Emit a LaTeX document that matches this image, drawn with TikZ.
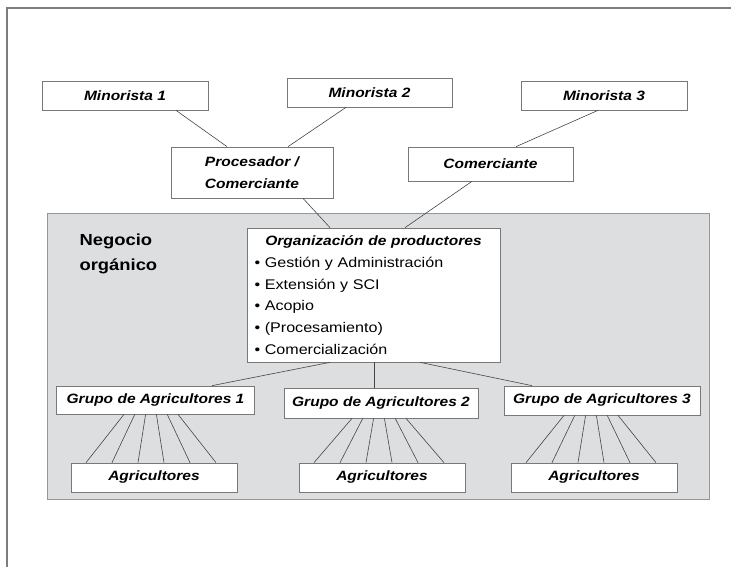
\documentclass[tikz,border=0pt]{standalone}
\usepackage{fontspec}
\setmainfont{Liberation Sans}[FakeStretch=1.15]
\usetikzlibrary{calc}
\definecolor{panelfill}{RGB}{221,222,224}
\definecolor{panelline}{RGB}{150,150,150}
\definecolor{boxline}{RGB}{120,120,120}
\definecolor{conn}{RGB}{70,70,70}
\definecolor{framec}{RGB}{125,125,125}
\tikzset{
  box/.style={draw=boxline, fill=white, line width=0.7pt, inner sep=0pt,
    font=\fontsize{13.5}{21.7}\selectfont\bfseries\itshape, align=center},
  conline/.style={draw=conn, line width=0.6pt},
}
\begin{document}
\begin{tikzpicture}[x=1pt,y=-1pt]
\useasboundingbox (0,0) rectangle (731,567);
% outer frame
\draw[framec, line width=1.2pt] (7,567) -- (7,8) -- (731,8);
% panel
\draw[panelline, fill=panelfill, line width=0.7pt] (47,213) rectangle (709,499);
\node[font=\fontsize{16}{25}\selectfont\bfseries, align=left, anchor=west] (neg) at (76,254) {Negocio\\orgánico};
% boxes
\node[box, minimum width=166pt, minimum height=29pt] (m1) at (125,95.5) {Minorista 1};
\node[box, minimum width=165pt, minimum height=29pt] (m2) at (369.5,92.5) {Minorista 2};
\node[box, minimum width=166pt, minimum height=29pt] (m3) at (604,95.5) {Minorista 3};
\node[box, minimum width=162pt, minimum height=51pt] (pc) at (252,172.5) {Procesador /\\Comerciante};
\node[box, minimum width=165pt, minimum height=34pt] (co) at (490.5,164) {Comerciante};
\node[box, minimum width=253pt, minimum height=134pt, text width=238pt, align=left,
  font=\fontsize{14}{21.7}\selectfont] (org) at (373.5,295)
  {\makebox[\linewidth][c]{\fontsize{13.5}{21.7}\selectfont\bfseries\itshape Organización de productores}\\
   \textbullet\ Gestión y Administración\\
   \textbullet\ Extensión y SCI\\
   \textbullet\ Acopio\\
   \textbullet\ (Procesamiento)\\
   \textbullet\ Comercialización};
\node[box, minimum width=198pt, minimum height=28pt] (g1) at (155.5,400) {Grupo de Agricultores 1};
\node[box, minimum width=194pt, minimum height=30pt] (g2) at (381,403) {Grupo de Agricultores 2};
\node[box, minimum width=196pt, minimum height=29pt] (g3) at (602,400.5) {Grupo de Agricultores 3};
\node[box, minimum width=166pt, minimum height=29pt] (a1) at (154,477.5) {Agricultores};
\node[box, minimum width=166pt, minimum height=29pt] (a2) at (382,477.5) {Agricultores};
\node[box, minimum width=166pt, minimum height=29pt] (a3) at (594,477.5) {Agricultores};
% connectors
\draw[conline] ($(m1.south)+(51,0)$) -- ($(pc.north)+(-25,0)$);
\draw[conline] ($(m2.south)+(-23.5,0)$) -- ($(pc.north)+(36,0)$);
\draw[conline] ($(m3.south)+(-6,0)$) -- ($(co.north)+(25.5,0)$);
\draw[conline] ($(pc.south)+(51,0)$) -- ($(org.north)+(-43.5,0)$);
\draw[conline] ($(co.south)+(-18.5,0)$) -- ($(org.north)+(31.5,0)$);
\draw[conline] ($(org.south)+(-43.5,0)$) -- ($(g1.north)+(56.5,0)$);
\draw[conline] ($(org.south)+(0.5,0)$) -- ($(g2.north)+(-7,0)$);
\draw[conline] ($(org.south)+(46.5,0)$) -- ($(g3.north)+(-70,0)$);
% fans
\foreach \g/\a in {g1/a1, g2/a2, g3/a3}{
  \foreach \t/\b in {-27/-65, -16.2/-39, -5.4/-13, 5.4/13, 16.2/39, 27/65}{
    \draw[conline] (\g.south -| {$(\a.north)+(\t-3,0)$}) -- ($(\a.north)+(\b-3,0)$);
  }
}
\end{tikzpicture}
\end{document}
